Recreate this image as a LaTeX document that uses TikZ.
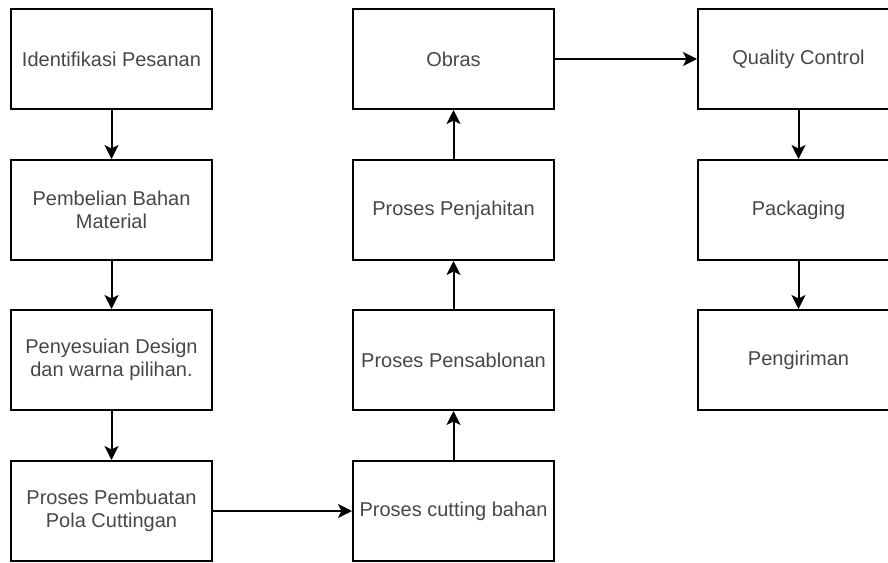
\documentclass[tikz,border=0pt]{standalone}
\usepackage{fontspec}
\setmainfont{Liberation Sans}
\usetikzlibrary{arrows.meta}
\begin{document}
\begin{tikzpicture}[x=1pt,y=-1pt,
  box/.style={draw=black, line width=2pt, minimum width=201pt, minimum height=100pt,
    inner sep=0pt, align=center, text=black!72, font=\fontsize{20}{23.5}\selectfont},
  arr/.style={line width=2pt, -{Stealth[length=14pt,width=14pt,inset=3.5pt]}}]
\useasboundingbox (0,0) rectangle (888,562);
\clip (0,0) rectangle (888,562);
\node[box] (a1) at (111.5,59) {Identifikasi Pesanan};
\node[box] (a2) at (111.5,210) {Pembelian Bahan\\Material};
\node[box] (a3) at (111.5,360) {Penyesuian Design\\dan warna pilihan.};
\node[box] (a4) at (111.5,511) {Proses Pembuatan\\Pola Cuttingan};
\node[box] (b4) at (453.5,511) {Proses cutting bahan};
\node[box] (b3) at (453.5,360) {Proses Pensablonan};
\node[box] (b2) at (453.5,210) {Proses Penjahitan};
\node[box] (b1) at (453.5,59) {Obras};
\node[box] (c1) at (798.5,59) {Quality Control};
\node[box] (c2) at (798.5,210) {Packaging};
\node[box] (c3) at (798.5,360) {Pengiriman};
\draw[arr] (a1) -- (a2);
\draw[arr] (a2) -- (a3);
\draw[arr] (a3) -- (a4);
\draw[arr] (a4) -- (b4);
\draw[arr] (b4) -- (b3);
\draw[arr] (b3) -- (b2);
\draw[arr] (b2) -- (b1);
\draw[arr] (b1) -- (c1);
\draw[arr] (c1) -- (c2);
\draw[arr] (c2) -- (c3);
\end{tikzpicture}
\end{document}
